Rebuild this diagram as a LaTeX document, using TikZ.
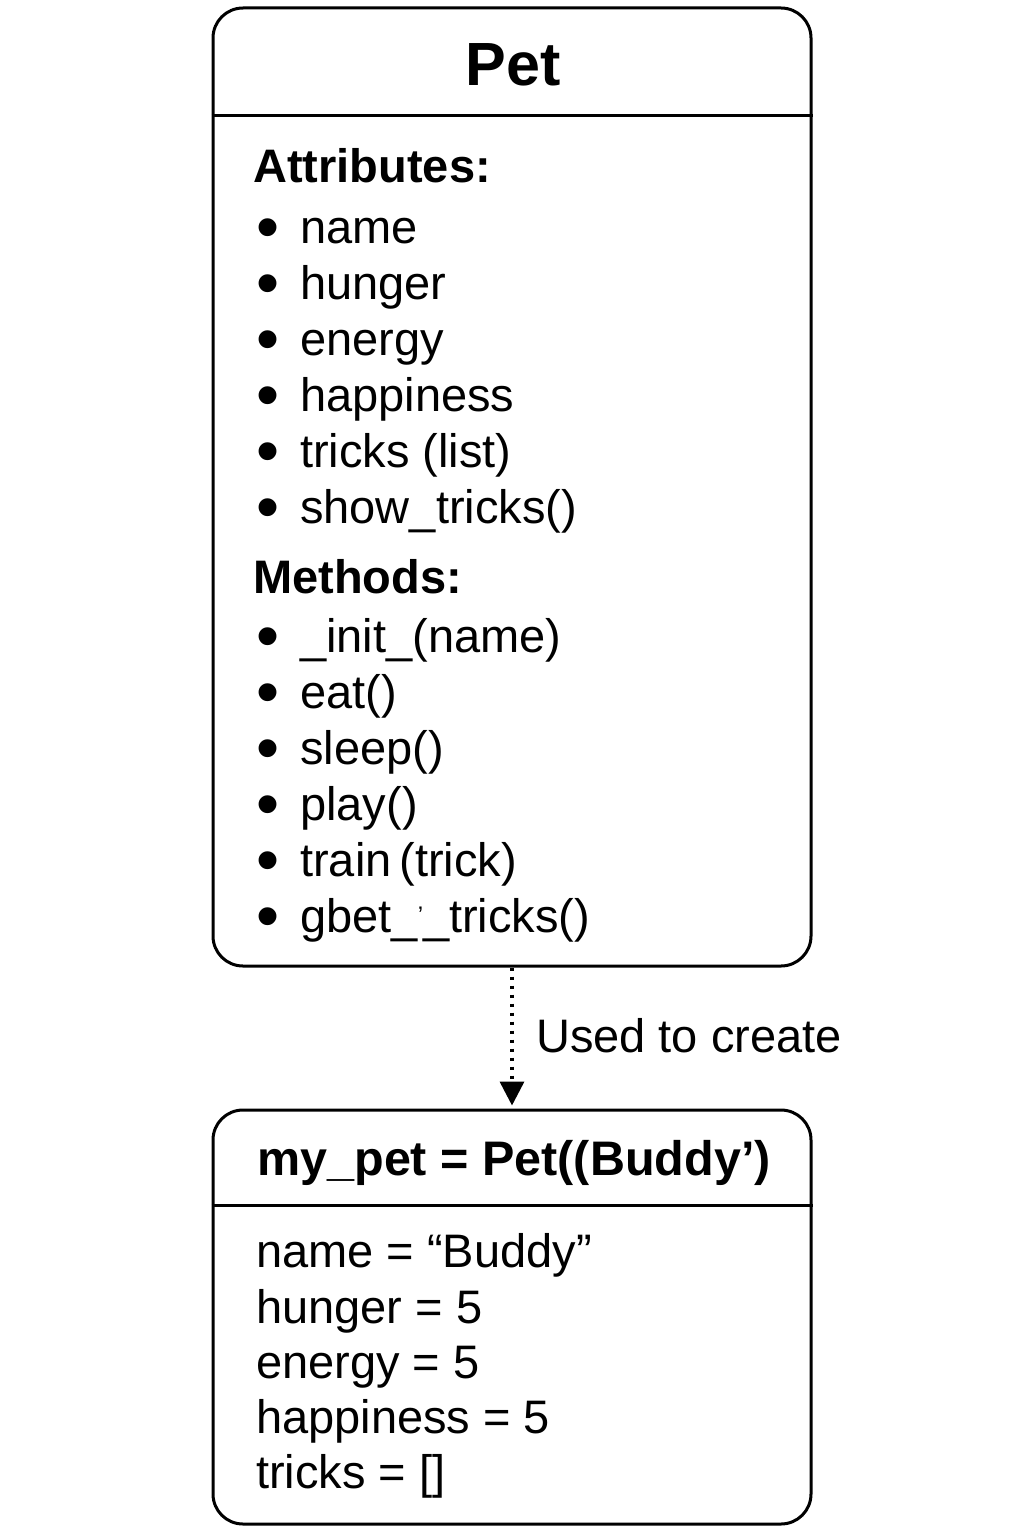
\documentclass[tikz,border=0pt]{standalone}
\usepackage{fontspec}
\setmainfont{Liberation Sans}
\usetikzlibrary{arrows.meta}
\newcommand{\bul}{\makebox[45pt][l]{\hspace{1pt}\raisebox{-6.5pt}[0pt][0pt]{\scalebox{1.4}{\textbullet}}}}
\begin{document}
\begin{tikzpicture}[x=1pt,y=-1pt,
 box/.style={draw, line width=3pt, rounded corners=30pt, minimum width=598pt, inner sep=0pt},
 sep/.style={line width=3pt},
 txt/.style={anchor=base west, inner sep=0pt, font=\fontsize{47}{56}\selectfont},
 head/.style={anchor=base west, inner sep=0pt, font=\fontsize{47}{56}\selectfont\bfseries},
 title/.style={anchor=base, inner sep=0pt, font=\fontsize{61}{70}\selectfont\bfseries},
 subtitle/.style={anchor=base, inner sep=0pt, font=\fontsize{48.5}{56}\selectfont\bfseries},
 link/.style={line width=3.5pt, dash pattern=on 3.5pt off 5.5pt, -{Triangle[length=24pt,width=24pt]}, shorten >=3pt},
]
\useasboundingbox (0,0) rectangle (1024,1536);

% class box
\node[box, minimum height=958pt] (pet) at (512,487) {};
\draw[sep] (pet.west |- 0,116) -- (pet.east |- 0,116);
\node[title] (pettitle) at (513,86) {Pet};

\node[head] (attr) at (253,182) {Attributes:};
\node[txt] (a1) at (255,243) {\bul name};
\node[txt] (a2) at (255,299) {\bul hunger};
\node[txt] (a3) at (255,355) {\bul energy};
\node[txt] (a4) at (255,411) {\bul happiness};
\node[txt] (a5) at (255,467) {\bul tricks (list)};
\node[txt] (a6) at (255,523) {\bul show\_tricks()};

\node[head] (meth) at (253,593) {Methods:};
\node[txt] (m1) at (255,652) {\bul \_init\_(name)};
\node[txt] (m2) at (255,708) {\bul eat()};
\node[txt] (m3) at (255,764) {\bul sleep()};
\node[txt] (m4) at (255,820) {\bul play()};
\node[txt] (m5) at (255,876) {\bul train\,(trick)};
\node[txt] (m6) at (255,932) {\bul gbet\_\raisebox{0.35ex}{\fontsize{24}{24}\selectfont'}\_tricks()};

% instance box
\node[box, minimum height=414pt] (inst) at (512,1317) {};
\draw[sep] (inst.west |- 0,1205) -- (inst.east |- 0,1205);
\node[subtitle] (insttitle) at (514,1175) {my\_pet = Pet((Buddy’)};

\node[txt] (i1) at (256,1267) {name = “Buddy”};
\node[txt] (i2) at (256,1323) {hunger = 5};
\node[txt] (i3) at (256,1378) {energy = 5};
\node[txt] (i4) at (256,1433) {happiness = 5};
\node[txt] (i5) at (256,1488) {tricks = []};

% connector
\draw[link] (pet.south) -- (inst.north);
\node[txt] (lbl) at (536,1052) {Used to create};
\end{tikzpicture}
\end{document}
